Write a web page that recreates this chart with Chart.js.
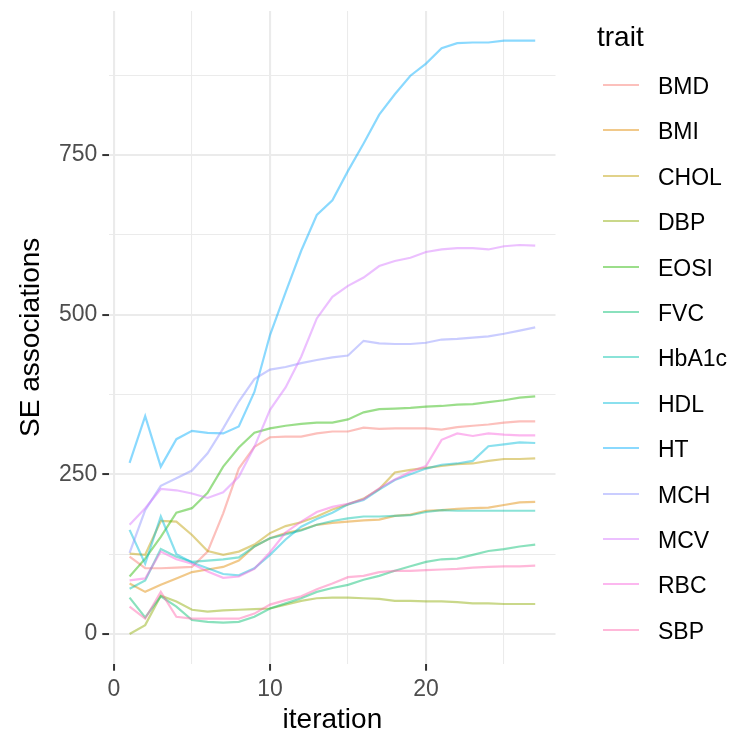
<!DOCTYPE html>
<html>
<head>
<meta charset="utf-8">
<script src="https://cdn.jsdelivr.net/npm/chart.js@4.4.1/dist/chart.umd.min.js"></script>
<style>
    html, body { margin: 0; padding: 0; background: #ffffff; }
    #contenedor { position: relative; width: 731px; height: 738px; }
    #grafica { position: absolute; left: 0; top: 0; }
    #leyenda {
        position: absolute; left: 0; top: 0;
        font-family: "Liberation Sans", Arial, sans-serif;
        color: #000000;
    }
    .titulo-leyenda { position: absolute; left: 597px; top: 20px; font-size: 28px; line-height: 34px; }
    .fila { position: absolute; left: 603px; height: 30px; width: 128px; }
    .fila .linea { position: absolute; left: 0; top: 14px; width: 36px; height: 2px; }
    .fila .texto { position: absolute; left: 55px; top: 2px; font-size: 23px; line-height: 28px; white-space: nowrap; }
</style>
</head>
<body>
<div id="contenedor">
    <canvas id="grafica" width="731" height="738"></canvas>
    <div id="leyenda"></div>
</div>
<script>
/* ==================
    DATOS
================== */

const iteraciones = [1, 2, 3, 4, 5, 6, 7, 8, 9, 10, 11, 12, 13, 14, 15, 16, 17, 18, 19, 20, 21, 22, 23, 24, 25, 26, 27];

const rasgos = ["BMD", "BMI", "CHOL", "DBP", "EOSI", "FVC", "HbA1c", "HDL", "HT", "MCH", "MCV", "RBC", "SBP"];

const colores = ["#F8766D", "#E18A00", "#BE9C00", "#8CAB00", "#24B700", "#00BE70", "#00C1AB",
                 "#00BBDA", "#00ACFC", "#8B93FF", "#D575FE", "#F962DD", "#FF65AC"];

const valoresBMD   = [121, 103, 103, 104, 105, 129, 189, 259, 293, 308, 309, 309, 314, 317, 317, 323, 321, 322, 322, 322, 320, 324, 326, 328, 331, 333, 333];
const valoresBMI   = [79, 66, 77, 87, 97, 101, 105, 115, 137, 150, 158, 163, 171, 174, 176, 178, 179, 185, 187, 193, 194, 196, 197, 198, 202, 206, 207];
const valoresCHOL  = [126, 124, 177, 176, 155, 130, 124, 129, 140, 158, 169, 175, 184, 195, 203, 212, 227, 253, 257, 260, 263, 266, 267, 271, 274, 274, 275];
const valoresDBP   = [0, 14, 60, 51, 38, 35, 37, 38, 39, 40, 46, 52, 56, 57, 57, 56, 55, 52, 52, 51, 51, 50, 48, 48, 47, 47, 47];
const valoresEOSI  = [90, 118, 152, 190, 197, 221, 262, 292, 315, 322, 326, 329, 331, 331, 336, 347, 352, 353, 354, 356, 357, 359, 360, 363, 366, 370, 372];
const valoresFVC   = [57, 26, 59, 43, 22, 19, 18, 19, 27, 40, 48, 56, 66, 72, 77, 85, 91, 99, 106, 113, 117, 118, 124, 130, 133, 137, 140];
const valoresHbA1c = [71, 84, 133, 121, 113, 115, 117, 120, 137, 150, 156, 162, 171, 177, 181, 184, 184, 185, 186, 191, 194, 193, 193, 193, 193, 193, 193];
const valoresHDL   = [163, 110, 184, 125, 112, 103, 94, 92, 103, 124, 148, 168, 180, 190, 203, 210, 226, 241, 250, 259, 265, 267, 271, 294, 297, 300, 299];
const valoresHT    = [268, 341, 262, 305, 318, 315, 314, 325, 379, 468, 535, 600, 656, 679, 725, 768, 813, 845, 874, 893, 917, 925, 926, 926, 929, 929, 929];
const valoresMCH   = [127, 194, 232, 244, 256, 283, 322, 364, 399, 414, 418, 424, 429, 433, 436, 459, 455, 454, 454, 456, 461, 462, 464, 466, 470, 475, 480];
const valoresMCV   = [171, 197, 227, 225, 220, 213, 222, 246, 293, 351, 386, 434, 494, 528, 545, 558, 576, 584, 589, 598, 602, 604, 604, 602, 607, 609, 608];
const valoresRBC   = [84, 87, 129, 117, 110, 98, 88, 90, 102, 128, 159, 176, 191, 199, 204, 211, 228, 242, 254, 263, 304, 314, 310, 314, 312, 311, 311];
const valoresSBP   = [43, 24, 66, 27, 24, 24, 24, 24, 32, 46, 53, 59, 70, 79, 89, 91, 97, 99, 99, 100, 101, 102, 104, 105, 106, 106, 107];

const series = [valoresBMD, valoresBMI, valoresCHOL, valoresDBP, valoresEOSI, valoresFVC, valoresHbA1c,
                valoresHDL, valoresHT, valoresMCH, valoresMCV, valoresRBC, valoresSBP];

const ticksX = [0, 10, 20];
const ticksXMenores = [5, 15, 25];
const ticksY = [0, 250, 500, 750];
const ticksYMenores = [125, 375, 625, 875];

/* ==================
    UTILIDADES
================== */

const FUENTE = '"Liberation Sans", Arial, sans-serif';
const ALFA = 0.46;

function conAlfa(hex, alfa) {
    const r = parseInt(hex.slice(1, 3), 16);
    const g = parseInt(hex.slice(3, 5), 16);
    const b = parseInt(hex.slice(5, 7), 16);
    return `rgba(${r}, ${g}, ${b}, ${alfa})`;
}

function ticksCombinados(mayores, menores) {
    return mayores.concat(menores)
        .sort((a, b) => a - b)
        .map((v) => ({ value: v, major: mayores.includes(v) }));
}

function esMayor(ctx, mayores) {
    return ctx.tick && mayores.includes(ctx.tick.value);
}

function configurarEje(mayores, menores) {
    return {
        type: "linear",
        afterBuildTicks: (scale) => {
            scale.ticks = ticksCombinados(mayores, menores);
        },
        border: { display: false },
        grid: {
            color: "#EBEBEB",
            lineWidth: (ctx) => (esMayor(ctx, mayores) ? 2.1 : 1.05),
            drawTicks: true,
            tickLength: 7,
            tickWidth: 2,
            tickColor: (ctx) => (esMayor(ctx, mayores) ? "#333333" : "rgba(0, 0, 0, 0)"),
        },
        ticks: {
            autoSkip: false,
            maxRotation: 0,
            color: "#4D4D4D",
            font: { family: FUENTE, size: 23 },
            callback: (valor) => (mayores.includes(valor) ? String(valor) : ""),
        },
    };
}

/* ==================
    LEYENDA
================== */

function construirLeyenda() {
    const leyenda = document.getElementById("leyenda");
    const titulo = document.createElement("div");
    titulo.className = "titulo-leyenda";
    titulo.textContent = "trait";
    leyenda.appendChild(titulo);

    rasgos.forEach((rasgo, i) => {
        const fila = document.createElement("div");
        fila.className = "fila";
        fila.style.top = (85 + i * 45.4 - 15) + "px";

        const linea = document.createElement("span");
        linea.className = "linea";
        linea.style.background = conAlfa(colores[i], ALFA);

        const texto = document.createElement("span");
        texto.className = "texto";
        texto.textContent = rasgo;

        fila.appendChild(linea);
        fila.appendChild(texto);
        leyenda.appendChild(fila);
    });
}

/* ==================
    GRAFICA
================== */

function renderizarGrafica() {
    const canvas = document.getElementById("grafica");
    if (!canvas || typeof Chart === "undefined") {
        return;
    }

    const datasets = rasgos.map((rasgo, i) => ({
        label: rasgo,
        data: iteraciones.map((x, j) => ({ x: x, y: series[i][j] })),
        borderColor: conAlfa(colores[i], ALFA),
        backgroundColor: conAlfa(colores[i], ALFA),
        borderWidth: 2.2,
        pointRadius: 0,
        tension: 0,
        fill: false,
        order: rasgos.length - i,
    }));

    const ejeX = configurarEje(ticksX, ticksXMenores);
    ejeX.min = -0.3;
    ejeX.max = 28.3;
    ejeX.afterFit = (scale) => {
        scale.height = 74.3;
        scale.paddingLeft = 0;
        scale.paddingRight = 0;
    };
    ejeX.ticks.padding = 5;
    ejeX.title = {
        display: true,
        text: "iteration",
        color: "#000000",
        font: { family: FUENTE, size: 28 },
        padding: { top: 0, bottom: 1 },
    };

    const ejeY = configurarEje(ticksY, ticksYMenores);
    ejeY.min = -46.45;
    ejeY.max = 975.45;
    // el panel empieza justo en el borde: sin relleno extra por las etiquetas
    ejeY.afterFit = (scale) => {
        scale.width = 109.3;
        scale.paddingTop = 0;
        scale.paddingBottom = 0;
    };
    ejeY.ticks.padding = 5;
    ejeY.title = {
        display: true,
        text: "SE associations",
        color: "#000000",
        font: { family: FUENTE, size: 28 },
        padding: { top: 14, bottom: 0 },
    };

    new Chart(canvas.getContext("2d"), {
        type: "line",
        data: { datasets: datasets },
        options: {
            responsive: false,
            animation: false,
            devicePixelRatio: 1,
            layout: { padding: { left: 0, top: 10.9, right: 175.5, bottom: 0 } },
            plugins: {
                legend: { display: false },
                tooltip: { enabled: false },
            },
            scales: { x: ejeX, y: ejeY },
        },
    });
}

construirLeyenda();
renderizarGrafica();
</script>
</body>
</html>
